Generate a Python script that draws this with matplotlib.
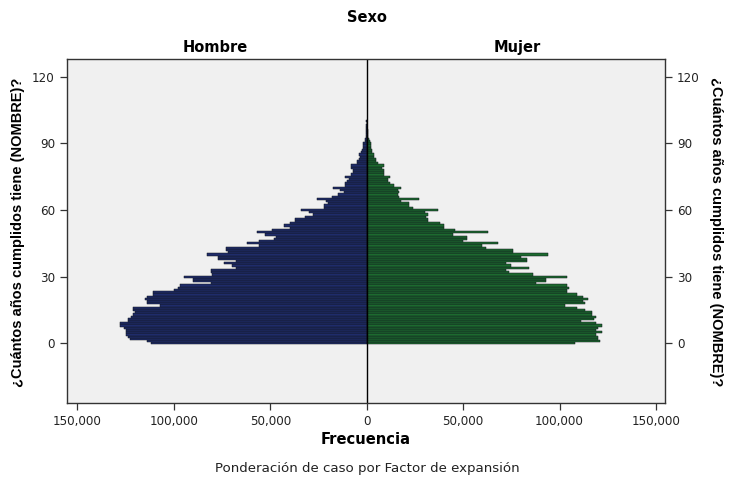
import numpy as np
import matplotlib
matplotlib.use("Agg")
import matplotlib.pyplot as plt
from matplotlib.ticker import FuncFormatter

plt.rcParams["font.family"] = ["DejaVu Sans"]

# frequency by age (thousands)
ages = list(range(0, 101))
hombre = [112, 114, 123, 124, 125, 125, 125, 126, 128, 128,
          124, 124, 122, 121, 120, 121, 121, 107, 114, 114,
          115, 114, 111, 111, 100, 98, 97, 81, 90, 90,
          95, 80, 81, 81, 68, 70, 74, 68, 77, 77,
          83, 72, 73, 73, 56, 62, 56, 48, 47, 53,
          57, 49, 40, 43, 40, 37, 37, 32, 28, 30,
          34, 22, 22, 20, 21, 26, 18, 15, 12, 14,
          17.5, 11, 11, 10, 9, 11, 8, 7, 7, 8,
          8, 5, 5, 4, 3.5, 4, 3, 2.5, 2, 1.8,
          2, 1, 0.8, 0.6, 0.5, 0.5, 0.3, 0.2, 0.2, 0.1,
          0.2]
mujer = [108, 121, 120, 120, 119, 122, 119, 120, 122, 119,
         111, 118, 119, 117, 117, 113, 109, 103, 113, 112,
         115, 112, 109, 104, 104, 105, 104, 88, 93, 93,
         104, 86, 74, 72, 84, 75, 72, 83, 83, 80,
         94, 76, 76, 62, 60, 68, 50, 52, 52, 45,
         63, 46, 40, 40, 38, 32, 32, 31, 32, 30,
         37, 24, 22, 22, 18, 27, 17, 16, 17, 16,
         18, 14, 12, 11, 11, 12, 9, 9, 9, 8,
         9, 6, 5, 5, 4, 4, 3, 2.5, 2, 2,
         2, 1.5, 1.2, 0.9, 0.7, 0.6, 0.5, 0.3, 0.3, 0.2,
         0.2]
xticks = [-150000, -100000, -50000, 0, 50000, 100000, 150000]
yticks = [0, 30, 60, 90, 120]

NAVY, GREEN, EDGE = "#1f2c6a", "#1d6a2f", "#10151c"
PANEL = "#f0f0f0"
YLAB = "¿Cuántos años cumplidos tiene (NOMBRE)?"

fig = plt.figure(figsize=(7.36, 4.86), dpi=100)
ax = fig.add_axes([0.0906, 0.170, 0.8129, 0.708])
ax.set_facecolor(PANEL)

h = np.array(hombre) * 1000
m = np.array(mujer) * 1000
ax.barh(ages, -h, height=1.0, color=NAVY, edgecolor=EDGE, lw=0.35)
ax.barh(ages, m, height=1.0, color=GREEN, edgecolor=EDGE, lw=0.35)
ax.axvline(0, color="black", lw=1.0)

ax.set_xlim(-155600, 154700)
ax.set_ylim(-27, 127.8)
ax.set_xticks(xticks)
ax.xaxis.set_major_formatter(FuncFormatter(lambda v, p: f"{abs(int(v)):,}"))
ax.set_yticks(yticks)
ax.tick_params(axis="both", direction="out", length=5, width=0.9,
               labelsize=8.6, color="#333333", labelcolor="#222222")
ax.tick_params(axis="y", left=True, right=True, labelleft=True,
               labelright=True)
for s in ax.spines.values():
    s.set_color("#333333")
    s.set_linewidth(1.0)

ax.set_xlabel("Frecuencia", fontsize=10.6, fontweight="bold", labelpad=3)
fig.text(0.024, 0.523, YLAB, rotation=90, fontsize=10.5, fontweight="bold",
         ha="center", va="center", family="Liberation Sans")
fig.text(0.973, 0.523, YLAB, rotation=270, fontsize=10.5, fontweight="bold",
         ha="center", va="center", family="Liberation Sans")

fig.text(0.4986, 0.965, "Sexo", fontsize=10.5, fontweight="bold",
         ha="center", va="center")
fig.text(0.292, 0.903, "Hombre", fontsize=10.5, fontweight="bold",
         ha="center", va="center")
fig.text(0.703, 0.903, "Mujer", fontsize=10.5, fontweight="bold",
         ha="center", va="center")
fig.text(0.4986, 0.035, "Ponderación de caso por Factor de expansión",
         fontsize=9.6, ha="center", va="center", color="#222222")

fig.savefig("out.png", dpi=100)
